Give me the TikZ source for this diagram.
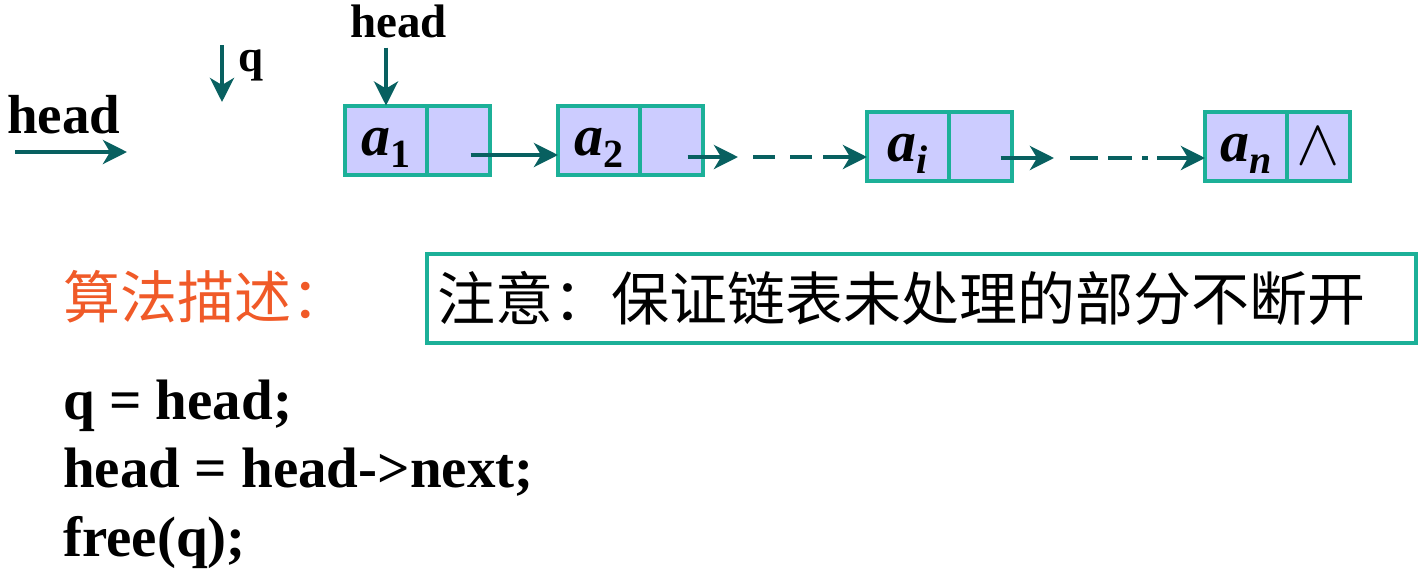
\documentclass[tikz,border=0pt]{standalone}
\usepackage{fontspec}
\setmainfont{Liberation Serif}
\newfontfamily\cjk{Noto Sans CJK SC}
\usetikzlibrary{arrows.meta}
\definecolor{boxteal}{RGB}{28,176,152}
\definecolor{cellfill}{RGB}{204,204,255}
\definecolor{arrowteal}{RGB}{8,96,96}
\definecolor{titleorange}{RGB}{240,90,40}
\tikzset{
    cell/.style={draw=boxteal,fill=cellfill,line width=4pt,minimum height=69pt,inner sep=0pt,outer sep=0pt},
    datacell/.style={cell,minimum width=82pt,text height=45pt,text depth=15pt},
    nextcell/.style={cell,minimum width=63pt},
    ptr/.style={draw=arrowteal,line width=4pt,-{Stealth[length=24pt,width=24pt,inset=7pt]}},
    gap/.style={draw=arrowteal,line width=4pt},
    lbl/.style={inner sep=0pt,font=\bfseries},
}

\begin{document}
\begin{tikzpicture}[x=1pt,y=-1pt]
		\useasboundingbox (0,0) rectangle (1428,576);
		% the list
		\foreach \n/\x/\y/\v/\p in {1/345/140/1/{},2/558/140/2/{},i/867/146/\itshape i/{},n/1205/146/\itshape n/{\scalebox{6.5}{$\wedge$}}} {
			\node[datacell,anchor=west] (d\n) at (\x,\y) {{\fontsize{58}{58}\selectfont\bfseries\itshape a}\raisebox{-12pt}{\fontsize{40}{40}\selectfont\bfseries \v}};
			\node[nextcell,anchor=west] (p\n) at (d\n.east) {\p};
		}
		\coordinate (s1) at ([xshift=12pt,yshift=-15pt]p1.center);
		\coordinate (s2) at ([xshift=16pt,yshift=-17pt]p2.center);
		\coordinate (t2) at (738,157);
		\coordinate (u2) at (823,157);
		\coordinate (si) at ([xshift=20pt,yshift=-12pt]pi.center);
		\coordinate (ti) at (1054,158);
		\coordinate (ui) at (1157,158);
		\draw[ptr] (s1) -- (d2.west |- s1);
		\draw[ptr] (s2) -- (t2);
		\draw[gap,dash pattern=on 22pt off 15pt,dash phase=22pt] (t2) -- (u2);
		\draw[ptr] (u2) -- (di.west |- u2);
		\draw[ptr] (si) -- (ti);
		\draw[gap,dash pattern=on 28pt off 10pt on 24pt off 10pt on 6pt off 16pt,dash phase=78pt] (ti) -- (ui);
		\draw[ptr] (ui) -- (dn.west |- ui);
		% pointers
		\node[lbl,anchor=base west,font=\fontsize{47}{47}\selectfont\bfseries] (headtop) at (350,37) {head};
		\draw[ptr,shorten <=10pt] (d1.north |- headtop.south) -- (d1.north);
		\node[lbl,anchor=base west,font=\fontsize{45}{45}\selectfont\bfseries] (qlbl) at (238,71) {q};
		\coordinate (q0) at (222,45);
		\coordinate (q1) at (222,102);
		\draw[ptr] (q0) -- (q1);
		\node[lbl,anchor=base west,font=\fontsize{55}{55}\selectfont\bfseries] (headleft) at (7,133) {head};
		\coordinate (h0) at (15,152);
		\coordinate (h1) at (127,152);
		\draw[ptr] (h0) -- (h1);
		% text
		\node[anchor=west,inner sep=0pt,text=titleorange,font=\cjk\fontsize{57}{57}\selectfont] (algo) at (63,297) {算法描述：};
		\node[draw=boxteal,line width=4pt,minimum width=989pt,minimum height=89pt,text width=969pt,align=left,inner xsep=10pt,font=\cjk\fontsize{58}{58}\selectfont] (note) at (921.5,298.5) {注意：保证链表未处理的部分不断开};
		\node[lbl,anchor=base west,font=\fontsize{57}{57}\selectfont\bfseries] (line1) at (63,419) {q = head;};
		\node[lbl,anchor=base west,font=\fontsize{57}{57}\selectfont\bfseries] (line2) at (63,487) {head = head->next;};
		\node[lbl,anchor=base west,font=\fontsize{57}{57}\selectfont\bfseries] (line3) at (63,556) {free(q);};
	\end{tikzpicture}
\end{document}
